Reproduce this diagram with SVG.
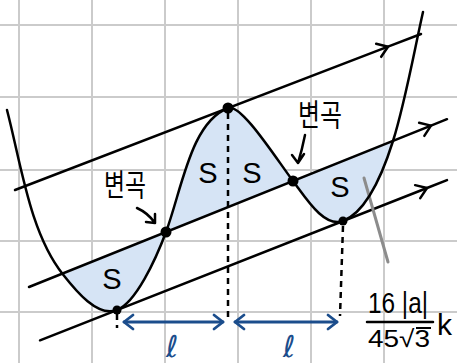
<svg xmlns="http://www.w3.org/2000/svg" width="457" height="363" viewBox="0 0 457 363">
<defs>
<style>
.grid line{stroke:#cbcbcb;stroke-width:2}
.ln{fill:none;stroke:#000;stroke-width:2.5;stroke-linecap:round;stroke-linejoin:round}
.dash{fill:none;stroke:#000;stroke-width:2.5;stroke-dasharray:6 5}
.blue{fill:none;stroke:#1b4d8c;stroke-width:2.8;stroke-linecap:round}
.s{font-family:"Liberation Sans",Arial,sans-serif;font-size:29px;fill:#000;text-anchor:middle}
.kr{font-family:"Noto Sans CJK KR",sans-serif;font-size:31px;fill:#000;text-anchor:middle}
.ell{font-family:"DejaVu Sans",sans-serif;font-size:30px;fill:#1b4d8c;text-anchor:middle}
.dot{fill:#000}
</style>
<marker id="chev" markerUnits="userSpaceOnUse" orient="auto" markerWidth="20" markerHeight="20" refX="0" refY="0" viewBox="-12 -10 14 20" overflow="visible">
<path d="M-10,-7 L0,0 L-10,7" fill="none" stroke="#000" stroke-width="2.5" stroke-linecap="round" stroke-linejoin="round"/>
</marker>
<marker id="bchev" markerUnits="userSpaceOnUse" orient="auto-start-reverse" markerWidth="20" markerHeight="20" refX="0" refY="0" viewBox="-12 -10 14 20" overflow="visible">
<path d="M-9,-7 L0,0 L-9,7" fill="none" stroke="#1b4d8c" stroke-width="2.8" stroke-linecap="round" stroke-linejoin="round"/>
</marker>
</defs>
<rect width="457" height="363" fill="#fff"/>
<g class="grid" id="grid">
<line x1="19" y1="0" x2="19" y2="363"/><line x1="92" y1="0" x2="92" y2="363"/><line x1="165" y1="0" x2="165" y2="363"/><line x1="238" y1="0" x2="238" y2="363"/><line x1="311" y1="0" x2="311" y2="363"/><line x1="384" y1="0" x2="384" y2="363"/>
<line x1="0" y1="25" x2="457" y2="25"/><line x1="0" y1="97" x2="457" y2="97"/><line x1="0" y1="170" x2="457" y2="170"/><line x1="0" y1="241" x2="457" y2="241"/><line x1="0" y1="312" x2="457" y2="312"/>
</g>
<g id="shading">
<path d="M63,274.5 C76,291 97.5,317.6 117,310 C135.6,302.8 155.5,260.2 166,232 C182,188.8 190.8,122.4 228,108 C241,103 275,157 293,181 C306.2,198.6 324.4,228.2 343,221 C367.2,211.6 384,169.6 393,141 Z" fill="#d6e4f5"/>
</g>
<g id="connectors">
<path class="ln" d="M15,190 L388,46.7 L421,34" marker-mid="url(#chev)"/>
<path class="ln" d="M29,287 L431,125.6 L447,119.2" marker-mid="url(#chev)"/>
<path class="ln" d="M40,340.3 L427,188 L447,180.1" marker-mid="url(#chev)"/>
<path class="dash" d="M228,113 L228,322"/>
<path class="dash" d="M343,226 L340,316"/>
<path class="dash" d="M117,314 L117,328"/>
<path class="blue" d="M124,322 L223,322" marker-start="url(#bchev)" marker-end="url(#bchev)"/>
<path class="blue" d="M235,322 L337,322" marker-start="url(#bchev)" marker-end="url(#bchev)"/>
<path d="M364,178 L388,262" fill="none" stroke="#8c8c8c" stroke-width="3" stroke-linecap="round"/>
<path class="ln" d="M305,135 Q302,150 298,163 M292,155 L298,163 L304,154"/>
<path class="ln" d="M137,208 Q148,213 155,223 M146,222 L155,223 L155,214"/>
</g>
<g id="curve">
<path class="ln" d="M7,110 C21.5,166 30,233 63,274.5 C76,291 97.5,317.6 117,310 C135.6,302.8 155.5,260.2 166,232 C182,188.8 190.8,122.4 228,108 C241,103 275,157 293,181 C306.2,198.6 324.4,228.2 343,221 C367.2,211.6 384,169.6 393,141 C405,102.8 414.2,51 423,12"/>
</g>
<g id="points">
<circle class="dot" cx="228" cy="108" r="5.5"/>
<circle class="dot" cx="166" cy="232" r="5.5"/>
<circle class="dot" cx="293" cy="181" r="5.5"/>
<circle class="dot" cx="117" cy="310" r="4.5"/>
<circle class="dot" cx="343" cy="221" r="4.5"/>
</g>
<g id="labels">
<text class="s" x="112" y="288.5">S</text>
<text class="s" x="208" y="183">S</text>
<text class="s" x="252" y="183">S</text>
<text class="s" x="340" y="197">S</text>
<text class="kr" x="320" y="126" textLength="44" lengthAdjust="spacingAndGlyphs">변곡</text>
<text class="kr" x="125" y="196" textLength="42" lengthAdjust="spacingAndGlyphs">변곡</text>
<text class="ell" x="172" y="357">ℓ</text>
<text class="ell" x="289" y="357">ℓ</text>
</g>
<g id="fraction">
<text x="368" y="313" font-family="Liberation Sans, Arial, sans-serif" font-size="29" textLength="60" lengthAdjust="spacingAndGlyphs">16 |a|</text>
<path d="M367,322 L433,322" stroke="#000" stroke-width="2.5" stroke-linecap="round"/>
<text x="368" y="347" font-family="Liberation Sans, Arial, sans-serif" font-size="24" textLength="62" lengthAdjust="spacingAndGlyphs">45√3</text>
<path d="M416,328 L431,328" stroke="#000" stroke-width="2"/>
<text x="437" y="335" font-family="Liberation Sans, Arial, sans-serif" font-size="30">k</text>
</g>
</svg>
